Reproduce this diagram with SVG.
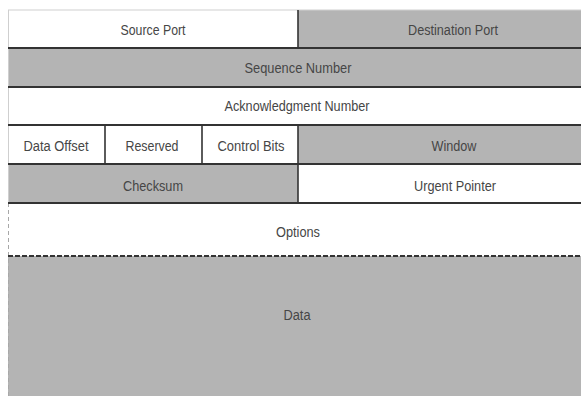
<svg xmlns="http://www.w3.org/2000/svg" width="581" height="396" viewBox="0 0 581 396">
<style>
.w{fill:#ffffff}
.g{fill:#b4b4b4}
.t{font-family:"Liberation Sans Narrow","Liberation Sans",Arial,sans-serif;font-size:14px;fill:#464646;text-anchor:middle}
.ln{stroke:#333;stroke-width:2;fill:none}
.vl{stroke:#333;stroke-width:1.6;fill:none}
.dash{stroke:#333;stroke-width:2;stroke-dasharray:5 2;fill:none}
.edge{stroke:#cfcfcf;stroke-width:1;fill:none}
.edged{stroke:#a8a8a8;stroke-width:1;stroke-dasharray:4 3;fill:none}
</style>
<rect width="581" height="396" fill="#fff"/>
<g id="source-port"><rect class="w" x="8" y="10" width="290" height="38"/><text class="t" x="153" y="35" textLength="65" lengthAdjust="spacingAndGlyphs">Source Port</text></g>
<g id="destination-port"><rect class="g" x="298" y="10" width="283" height="38"/><text class="t" x="453" y="35" textLength="90" lengthAdjust="spacingAndGlyphs">Destination Port</text></g>
<g id="sequence-number"><rect class="g" x="8" y="48" width="573" height="39"/><text class="t" x="298" y="73" textLength="107" lengthAdjust="spacingAndGlyphs">Sequence Number</text></g>
<g id="ack-number"><rect class="w" x="8" y="87" width="573" height="38"/><text class="t" x="297" y="111" textLength="145" lengthAdjust="spacingAndGlyphs">Acknowledgment Number</text></g>
<g id="data-offset"><rect class="w" x="8" y="125" width="97" height="39"/><text class="t" x="56" y="151" textLength="65" lengthAdjust="spacingAndGlyphs">Data Offset</text></g>
<g id="reserved"><rect class="w" x="105" y="125" width="97" height="39"/><text class="t" x="152" y="151" textLength="53" lengthAdjust="spacingAndGlyphs">Reserved</text></g>
<g id="control-bits"><rect class="w" x="202" y="125" width="96" height="39"/><text class="t" x="251" y="151" textLength="67" lengthAdjust="spacingAndGlyphs">Control Bits</text></g>
<g id="window"><rect class="g" x="298" y="125" width="283" height="39"/><text class="t" x="454" y="151" textLength="45" lengthAdjust="spacingAndGlyphs">Window</text></g>
<g id="checksum"><rect class="g" x="8" y="164" width="290" height="39"/><text class="t" x="153" y="191" textLength="60" lengthAdjust="spacingAndGlyphs">Checksum</text></g>
<g id="urgent-pointer"><rect class="w" x="298" y="164" width="283" height="39"/><text class="t" x="455" y="191" textLength="82" lengthAdjust="spacingAndGlyphs">Urgent Pointer</text></g>
<g id="options"><rect class="w" x="8" y="203" width="573" height="53"/><text class="t" x="298" y="237" textLength="44" lengthAdjust="spacingAndGlyphs">Options</text></g>
<g id="data"><rect class="g" x="8" y="256" width="573" height="140"/><text class="t" x="297" y="320" textLength="27" lengthAdjust="spacingAndGlyphs">Data</text></g>
<g id="connectors">
<line class="edge" x1="8" y1="10" x2="581" y2="10"/>
<line class="edge" x1="8.5" y1="10" x2="8.5" y2="203"/>
<line class="edged" x1="8.5" y1="203" x2="8.5" y2="396"/>
<line class="ln" x1="8" y1="48" x2="581" y2="48"/>
<line class="ln" x1="8" y1="87" x2="581" y2="87"/>
<line class="ln" x1="8" y1="125" x2="581" y2="125"/>
<line class="ln" x1="8" y1="164" x2="581" y2="164"/>
<line class="ln" x1="8" y1="203" x2="581" y2="203"/>
<line class="dash" x1="8" y1="256" x2="581" y2="256"/>
<line class="vl" x1="298" y1="10" x2="298" y2="48"/>
<line class="vl" x1="105" y1="125" x2="105" y2="164"/>
<line class="vl" x1="202" y1="125" x2="202" y2="164"/>
<line class="vl" x1="298" y1="125" x2="298" y2="203"/>
</g>
</svg>
